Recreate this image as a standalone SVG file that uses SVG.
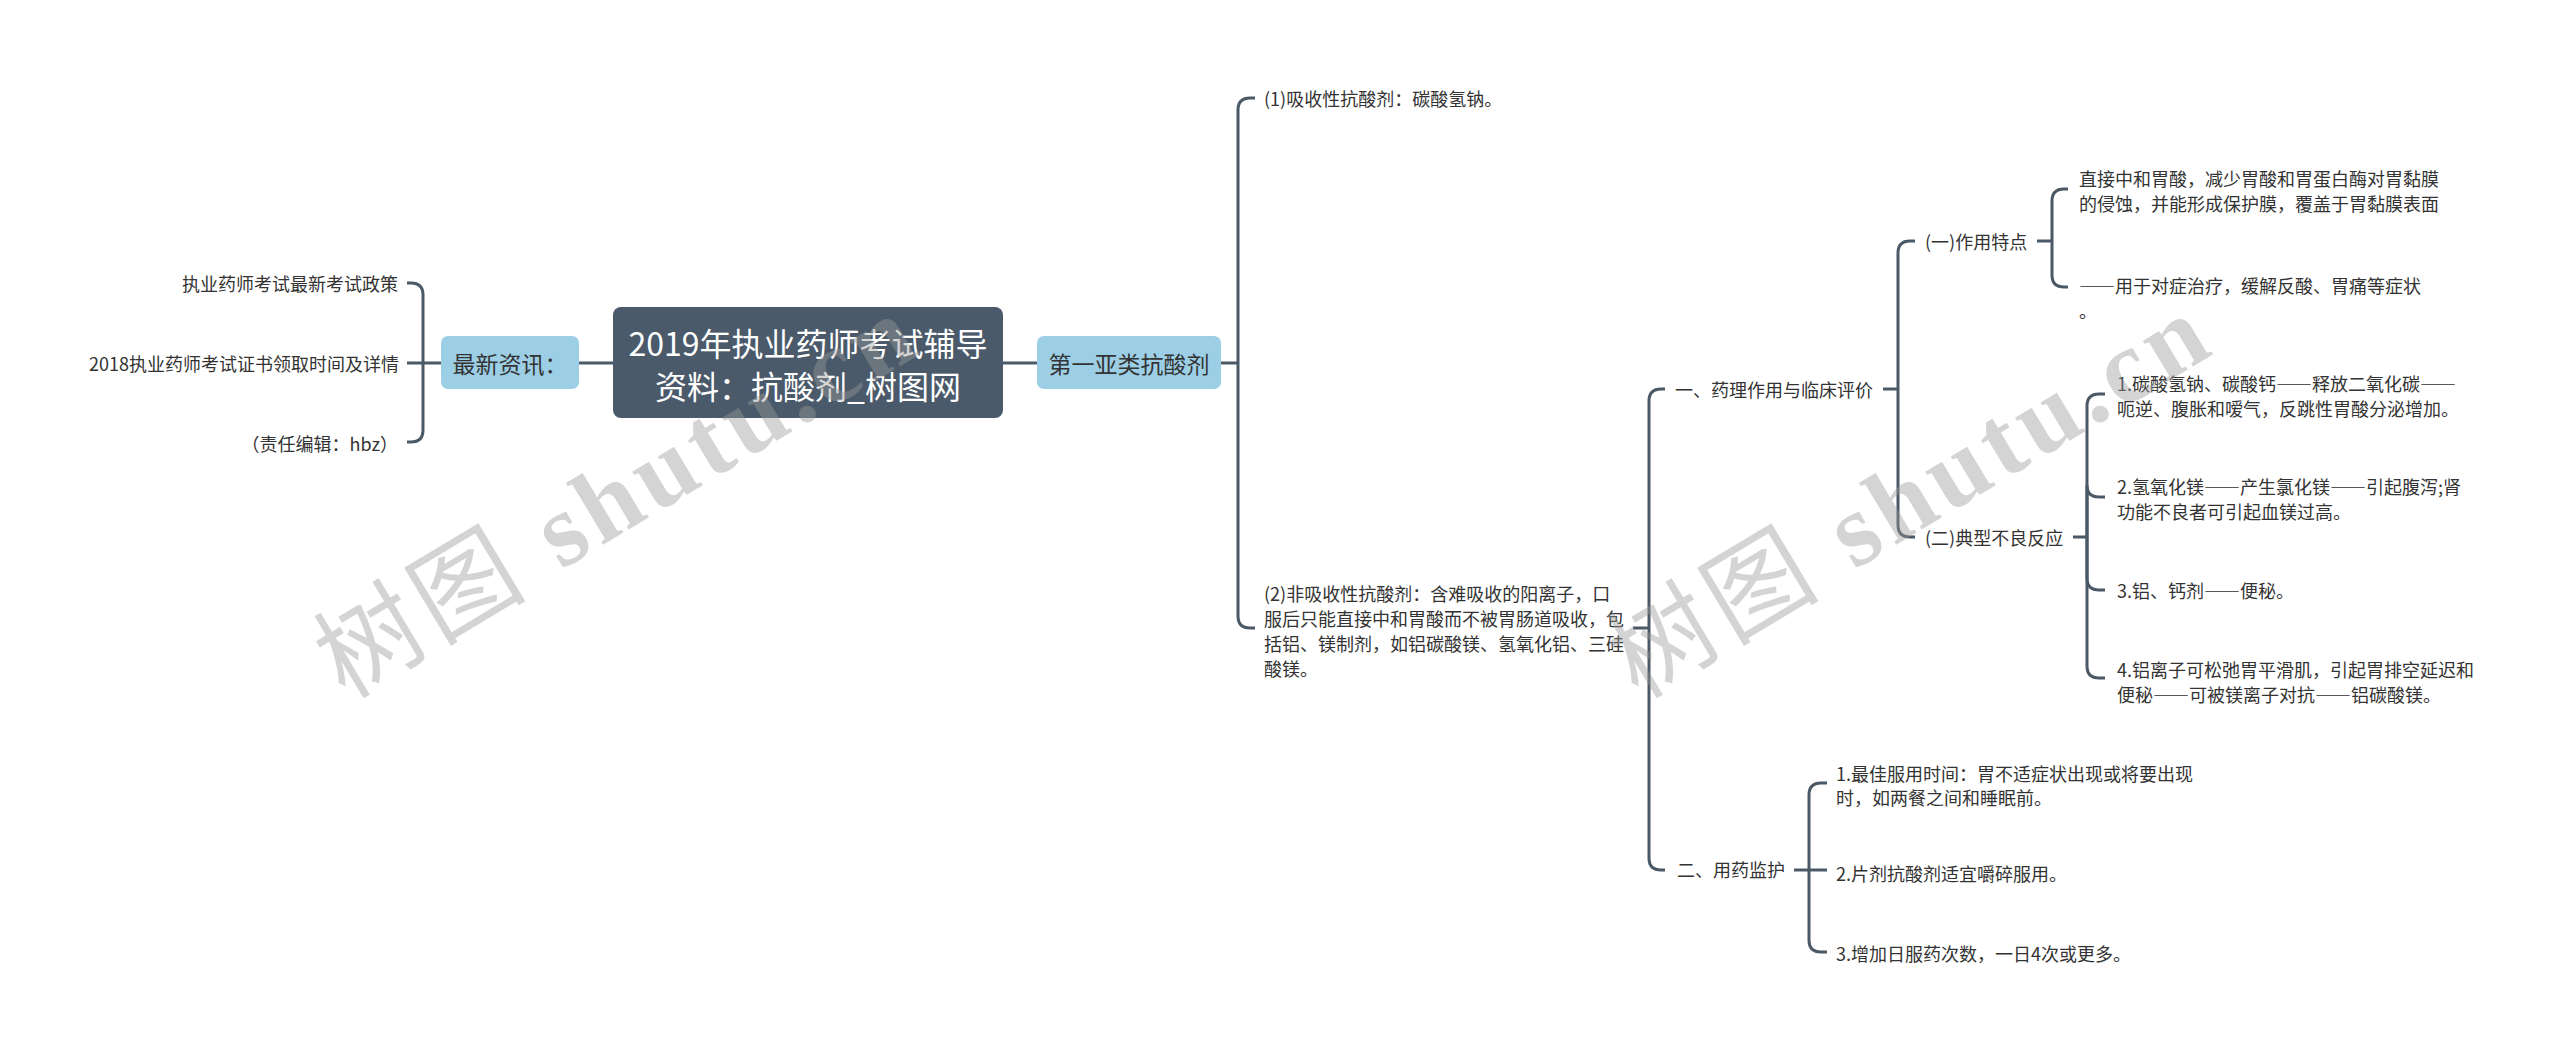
<svg xmlns="http://www.w3.org/2000/svg" width="2560" height="1051" viewBox="0 0 2560 1051">
<style>
  text { font-family: 'Noto Sans CJK SC', 'Noto Sans', sans-serif; fill: #333333; }
  .leaf { font-size: 18px; dominant-baseline: central; }
  .end { text-anchor: end; }
  .fw { font-variant-east-asian: full-width; font-feature-settings: "fwid" 1; }
  .sub { font-size: 23px; text-anchor: middle; dominant-baseline: central; }
  .title { font-size: 32px; text-anchor: middle; dominant-baseline: central; fill: #ffffff; }
  .box { fill: #9ccfe5; }
  .root { fill: #4a5a6a; }
  .con path { fill: none; stroke: #4b5866; stroke-width: 3; stroke-linecap: butt; }
  .wm { font-family: 'Liberation Serif', 'Noto Sans CJK SC', serif; font-size: 104px; fill: #9a9a9a; opacity: 0.42; letter-spacing: 6px; }
  .wm .lat { font-weight: bold; }
</style>
<rect x="0" y="0" width="2560" height="1051" fill="#ffffff"/>

<g id="connectors" class="con">
  <path d="M613 363 H579"/>
  <path d="M441 363 H407"/>
  <path d="M423 363 V295 Q423 283 411 283 H407"/>
  <path d="M423 363 V430 Q423 442 411 442 H407"/>
  <path d="M1003 363 H1037"/>
  <path d="M1221 363 H1238"/>
  <path d="M1238 363 V110 Q1238 98 1250 98 H1255"/>
  <path d="M1238 363 V616 Q1238 628 1250 628 H1255"/>
  <path d="M1633 628 H1649"/>
  <path d="M1649 628 V401 Q1649 389 1661 389 H1665"/>
  <path d="M1649 628 V858 Q1649 870 1661 870 H1665"/>
  <path d="M1883 389 H1898"/>
  <path d="M1898 389 V253 Q1898 241 1910 241 H1915"/>
  <path d="M1898 389 V525 Q1898 537 1910 537 H1915"/>
  <path d="M2037 241 H2052"/>
  <path d="M2052 241 V201 Q2052 189 2064 189 H2068"/>
  <path d="M2052 241 V275 Q2052 287 2064 287 H2068"/>
  <path d="M2073 537 H2087"/>
  <path d="M2087 537 V406 Q2087 394 2099 394 H2105"/>
  <path d="M2087 537 V485 Q2087 497 2099 497 H2105"/>
  <path d="M2087 537 V578 Q2087 590 2099 590 H2105"/>
  <path d="M2087 537 V666 Q2087 678 2099 678 H2105"/>
  <path d="M1794 870 H1809"/>
  <path d="M1809 870 V795 Q1809 783 1821 783 H1827"/>
  <path d="M1809 870 H1827"/>
  <path d="M1809 870 V940 Q1809 952 1821 952 H1827"/>
</g>

<g id="root">
  <rect class="root" x="613" y="307" width="390" height="111" rx="8"/>
  <text class="title" x="808" y="342">2019年执业药师考试辅导</text>
  <text class="title" x="808" y="385">资料：抗酸剂_树图网</text>
</g>

<g id="news">
  <rect class="box" x="441" y="336" width="138" height="53" rx="7"/>
  <text class="sub" x="510" y="363">最新资讯：</text>
</g>
<g id="news-1"><text class="leaf end" x="398" y="283">执业药师考试最新考试政策</text></g>
<g id="news-2"><text class="leaf end" x="399" y="363">2018执业药师考试证书领取时间及详情</text></g>
<g id="news-3"><text class="leaf end" x="398" y="443">（责任编辑：hbz）</text></g>

<g id="cat">
  <rect class="box" x="1037" y="336" width="184" height="53" rx="7"/>
  <text class="sub" x="1129" y="363">第一亚类抗酸剂</text>
</g>

<g id="absorb"><text class="leaf" x="1264" y="98">(1)吸收性抗酸剂：碳酸氢钠。</text></g>

<g id="nonabsorb">
  <text class="leaf" x="1264" y="593">(2)非吸收性抗酸剂：含难吸收的阳离子，口</text>
  <text class="leaf" x="1264" y="618">服后只能直接中和胃酸而不被胃肠道吸收，包</text>
  <text class="leaf" x="1264" y="643">括铝、镁制剂，如铝碳酸镁、氢氧化铝、三硅</text>
  <text class="leaf" x="1264" y="668">酸镁。</text>
</g>

<g id="pharm"><text class="leaf" x="1675" y="389">一、药理作用与临床评价</text></g>
<g id="feature"><text class="leaf" x="1925" y="241">(一)作用特点</text></g>
<g id="feature-1">
  <text class="leaf" x="2079" y="178">直接中和胃酸，减少胃酸和胃蛋白酶对胃黏膜</text>
  <text class="leaf" x="2079" y="203">的侵蚀，并能形成保护膜，覆盖于胃黏膜表面</text>
</g>
<g id="feature-2">
  <text class="leaf" x="2079" y="285"><tspan class="fw">——</tspan>用于对症治疗，缓解反酸、胃痛等症状</text>
  <text class="leaf" x="2079" y="310">。</text>
</g>

<g id="adverse"><text class="leaf" x="1925" y="537">(二)典型不良反应</text></g>
<g id="adverse-1">
  <text class="leaf" x="2117" y="383">1.碳酸氢钠、碳酸钙<tspan class="fw">——</tspan>释放二氧化碳<tspan class="fw">——</tspan></text>
  <text class="leaf" x="2117" y="408">呃逆、腹胀和嗳气，反跳性胃酸分泌增加。</text>
</g>
<g id="adverse-2">
  <text class="leaf" x="2117" y="486">2.氢氧化镁<tspan class="fw">——</tspan>产生氯化镁<tspan class="fw">——</tspan>引起腹泻;肾</text>
  <text class="leaf" x="2117" y="511">功能不良者可引起血镁过高。</text>
</g>
<g id="adverse-3"><text class="leaf" x="2117" y="590">3.铝、钙剂<tspan class="fw">——</tspan>便秘。</text></g>
<g id="adverse-4">
  <text class="leaf" x="2117" y="669">4.铝离子可松弛胃平滑肌，引起胃排空延迟和</text>
  <text class="leaf" x="2117" y="694">便秘<tspan class="fw">——</tspan>可被镁离子对抗<tspan class="fw">——</tspan>铝碳酸镁。</text>
</g>

<g id="monitor"><text class="leaf" x="1677" y="869">二、用药监护</text></g>
<g id="monitor-1">
  <text class="leaf" x="1836" y="773">1.最佳服用时间：胃不适症状出现或将要出现</text>
  <text class="leaf" x="1836" y="797">时，如两餐之间和睡眠前。</text>
</g>
<g id="monitor-2"><text class="leaf" x="1836" y="873">2.片剂抗酸剂适宜嚼碎服用。</text></g>
<g id="monitor-3"><text class="leaf" x="1836" y="953">3.增加日服药次数，一日4次或更多。</text></g>

<g id="watermark">
  <text class="wm" x="345" y="700" transform="rotate(-31 345 700)">树图 <tspan class="lat">shutu.cn</tspan></text>
  <text class="wm" x="1638" y="700" transform="rotate(-31 1638 700)">树图 <tspan class="lat">shutu.cn</tspan></text>
</g>
</svg>
